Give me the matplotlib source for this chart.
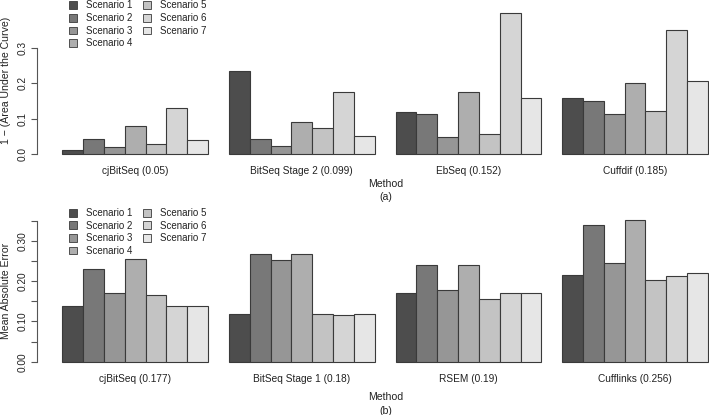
import matplotlib
matplotlib.use("Agg")
import matplotlib.pyplot as plt
from matplotlib.patches import Patch
import numpy as np

plt.rcParams['font.family'] = ['Liberation Sans', 'DejaVu Sans']

scenarios = ["Scenario 1", "Scenario 2", "Scenario 3", "Scenario 4",
             "Scenario 5", "Scenario 6", "Scenario 7"]
colors = ["#4d4d4d", "#787878", "#969696", "#aeaeae", "#c3c3c3", "#d5d5d5", "#e6e6e6"]

methods_a = ["cjBitSeq (0.05)", "BitSeq Stage 2 (0.099)", "EbSeq (0.152)", "Cuffdif (0.185)"]
auc_cjbitseq = [0.012, 0.043, 0.021, 0.080, 0.028, 0.130, 0.040]
auc_bitseq2 = [0.236, 0.043, 0.023, 0.092, 0.073, 0.177, 0.052]
auc_ebseq = [0.119, 0.113, 0.049, 0.175, 0.056, 0.398, 0.158]
auc_cuffdif = [0.160, 0.151, 0.113, 0.200, 0.122, 0.351, 0.208]

methods_b = ["cjBitSeq (0.177)", "BitSeq Stage 1 (0.18)", "RSEM (0.19)", "Cufflinks (0.256)"]
mae_cjbitseq = [0.139, 0.231, 0.171, 0.255, 0.166, 0.138, 0.139]
mae_bitseq1 = [0.118, 0.268, 0.253, 0.269, 0.118, 0.116, 0.118]
mae_rsem = [0.172, 0.240, 0.178, 0.241, 0.155, 0.172, 0.172]
mae_cufflinks = [0.216, 0.341, 0.245, 0.352, 0.203, 0.212, 0.221]

W, H = 709, 415
fig = plt.figure(figsize=(W / 100, H / 100), dpi=100)
TXT = "#222222"
AX = "#555555"


def fx(px):
    return px / W


def fy(py):
    return 1 - py / H


def panel(top_px, bot_px, ylim, values, methods, yticks, ylabels, ylabel,
          ylabel_y, leg_top, xl_y, tag, tag_y, ymax_axis):
    ax = fig.add_axes([fx(36.7), fy(bot_px), 1 - fx(36.7), (bot_px - top_px) / H])
    ax.set_xlim(-0.228, 32.05)
    ax.set_ylim(*ylim)
    for g, vals in enumerate(values):
        x = g * 8 + 1 + np.arange(7) + 0.5
        ax.bar(x, vals, width=1.0, color=colors, edgecolor="#3a3a3a", linewidth=0.8)
    for s in ["top", "right", "bottom"]:
        ax.spines[s].set_visible(False)
    ax.spines["left"].set_color(AX)
    ax.spines["left"].set_linewidth(0.8)
    ax.spines["left"].set_bounds(0, ymax_axis)
    ax.set_yticks(yticks)
    ax.set_yticklabels(ylabels, rotation=90, va="center", color=TXT, fontsize=7.3)
    ax.tick_params(axis="y", length=4, width=0.8, color=AX, pad=2.5)
    ax.set_xticks([4.5, 12.5, 20.5, 28.5])
    ax.set_xticklabels(methods, color=TXT, fontsize=7.3)
    ax.tick_params(axis="x", length=0, pad=4.5)
    fig.text(fx(6), fy(ylabel_y), ylabel, rotation=90, ha="center", va="center",
             color=TXT, fontsize=7.6)
    fig.text(fx(386), fy(xl_y), "Method", ha="center", va="center", color=TXT, fontsize=7.6)
    fig.text(fx(386), fy(tag_y), tag, ha="center", va="center", color=TXT, fontsize=7.6)
    handles = [Patch(facecolor=c, edgecolor="#3a3a3a", linewidth=0.6) for c in colors]
    ax.legend(handles, scenarios, ncol=2, loc="upper left",
              bbox_to_anchor=(fx(69), fy(leg_top)), bbox_transform=fig.transFigure,
              frameon=False, fontsize=7.0, handlelength=0.85, handleheight=0.85,
              handletextpad=0.95, columnspacing=1.0, labelspacing=0.27,
              borderpad=0, borderaxespad=0, labelcolor=TXT)
    return ax


# top panel: 0 at 154.3 px, 354 px per unit
panel(0, 160, (-(160 - 154.3) / 354, 154.3 / 354),
      [auc_cjbitseq, auc_bitseq2, auc_ebseq, auc_cuffdif], methods_a,
      [0.0, 0.1, 0.2, 0.3], ["0.0", "0.1", "0.2", "0.3"],
      "1 \u2212 (Area Under the Curve)", 80, 0.5, 183.7, "(a)", 196.5, 0.3)

# bottom panel: 0 at 361.7 px, 402 px per unit
panel(205, 368, (-(368 - 361.7) / 402, (361.7 - 205) / 402),
      [mae_cjbitseq, mae_bitseq1, mae_rsem, mae_cufflinks], methods_b,
      [0.0, 0.05, 0.10, 0.15, 0.20, 0.25, 0.30, 0.35],
      ["0.00", "", "0.10", "", "0.20", "", "0.30", ""],
      "Mean Absolute Error", 291, 208, 396.7, "(b)", 410.7, 0.35)

fig.savefig("out.png", dpi=100)
